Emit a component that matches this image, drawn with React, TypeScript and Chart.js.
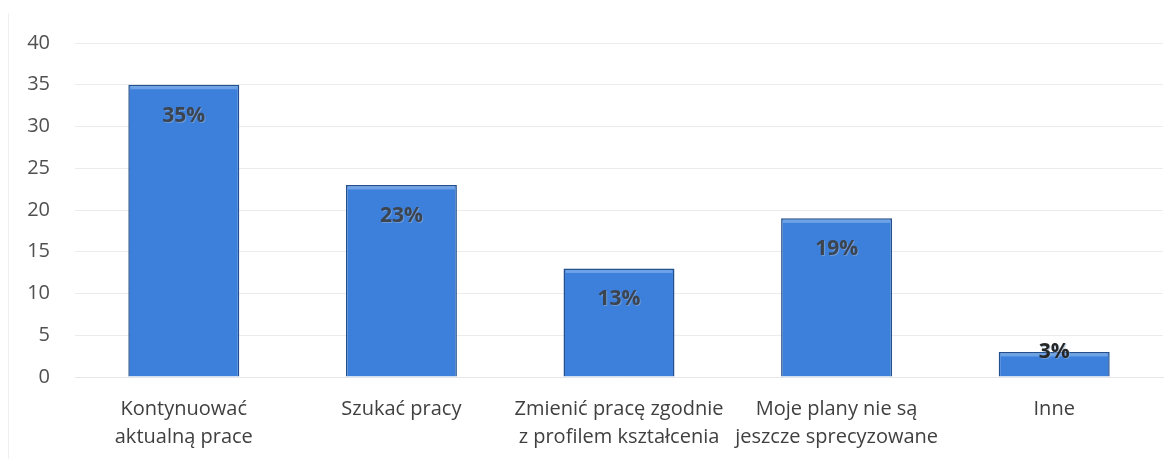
import React, { useEffect, useRef } from "react";
import { Chart, registerables } from "chart.js";

Chart.register(...registerables);

const categories: string[][] = [
  ["Kontynuować", "aktualną prace"],
  ["Szukać pracy"],
  ["Zmienić pracę zgodnie", "z profilem kształcenia"],
  ["Moje plany nie są", "jeszcze sprecyzowane"],
  ["Inne"],
];
const values: number[] = [35, 23, 13, 19, 3];
const valueLabels: string[] = ["35%", "23%", "13%", "19%", "3%"];

const FONT = "'Open Sans', 'Liberation Sans', sans-serif";

const framePlugin = {
  id: "frame",
  beforeDraw(chart: any) {
    const ctx = chart.ctx;
    ctx.save();
    ctx.strokeStyle = "#f0f0f0";
    ctx.lineWidth = 1;
    ctx.beginPath();
    ctx.moveTo(8.5, 13);
    ctx.lineTo(8.5, chart.height);
    ctx.stroke();
    ctx.restore();
  },
};

const labelPlugin = {
  id: "barLabels",
  afterDatasetsDraw(chart: any) {
    const ctx = chart.ctx;
    const meta = chart.getDatasetMeta(0);
    ctx.save();
    // light bevel along top of bars
    meta.data.forEach((bar: any) => {
      const w = bar.width;
      ctx.fillStyle = "rgba(150,190,240,0.55)";
      ctx.fillRect(bar.x - w / 2 + 2, bar.y + 1.5, w - 4, 3);
    });
    ctx.font = `bold 21px ${FONT}`;
    ctx.textAlign = "center";
    ctx.textBaseline = "middle";
    meta.data.forEach((bar: any, i: number) => {
      const h = bar.base - bar.y;
      const y = h < 50 ? bar.y : bar.y + 31;
      ctx.fillStyle = "rgba(140,170,210,0.6)";
      ctx.fillText(valueLabels[i], bar.x + 1, y + 1);
      ctx.fillStyle = h < 50 ? "#262626" : "#3c4450";
      ctx.fillText(valueLabels[i], bar.x, y);
    });
    ctx.restore();
  },
};

export default function App() {
  const ref = useRef<HTMLCanvasElement>(null);
  useEffect(() => {
    if (!ref.current) return;
    const chart = new Chart(ref.current, {
      type: "bar",
      data: {
        labels: categories,
        datasets: [
          {
            data: values,
            backgroundColor: "#3d80dc",
            borderColor: "#234f8c",
            borderWidth: 1.5,
            barPercentage: 0.51,
            categoryPercentage: 1,
          },
        ],
      },
      options: {
        animation: false,
        responsive: false,
        maintainAspectRatio: false,
        layout: { padding: { top: 43, right: 12, left: 0, bottom: 0 } },
        plugins: { legend: { display: false }, tooltip: { enabled: false } },
        scales: {
          x: {
            grid: { display: false, drawTicks: false },
            border: { display: true, color: "#e6e6e6" },
            ticks: {
              color: "#404040",
              font: { family: FONT, size: 20, lineHeight: 1.4 },
              padding: 18,
              maxRotation: 0,
              autoSkip: false,
            },
            afterFit: (s: any) => {
              s.height = 82;
            },
          },
          y: {
            min: 0,
            max: 40,
            ticks: {
              stepSize: 5,
              color: "#505050",
              font: { family: FONT, size: 20 },
              padding: 25,
            },
            grid: { color: "#ececec", drawTicks: false },
            border: { display: false },
            afterFit: (s: any) => {
              s.width = 75;
            },
          },
        },
      },
      plugins: [framePlugin, labelPlugin],
    });
    return () => chart.destroy();
  }, []);
  return (
    <div style={{ position: "absolute", left: 0, top: 0, width: 1175, height: 459, background: "#fff" }}>
      <canvas ref={ref} width={1175} height={459} />
    </div>
  );
}
